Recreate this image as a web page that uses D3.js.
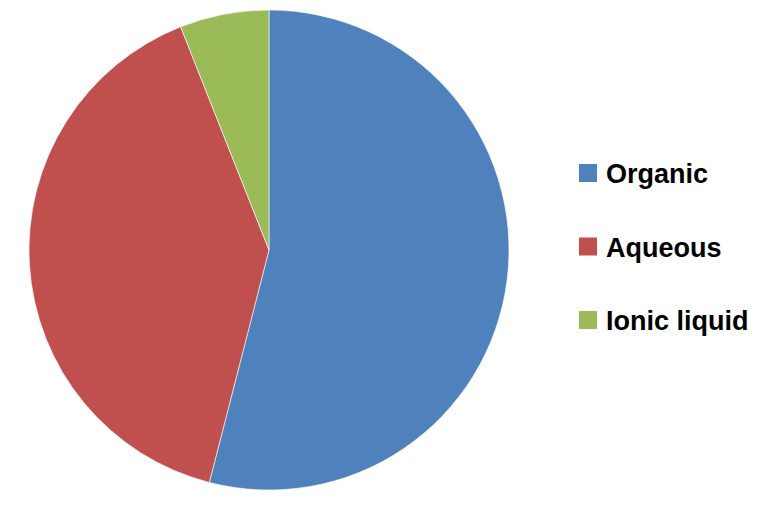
<!DOCTYPE html>
<html>
<head>
<meta charset="utf-8">
<script src="https://cdn.jsdelivr.net/npm/d3@7"></script>
<style>
  html, body { margin: 0; padding: 0; background: #fff; }
  svg { display: block; }
</style>
</head>
<body>
<svg id="chart" width="778" height="506"></svg>
<script>
const categories = ["Organic", "Aqueous", "Ionic liquid"];
const values = [54, 40, 6];
const colors = ["#4F81BD", "#C0504D", "#9BBB59"];

const svg = d3.select("#chart");
const cx = 269, cy = 250, r = 240;

const pie = d3.pie().sort(null).value(d => d.v);
const arcs = pie(categories.map((c, i) => ({ c, v: values[i], col: colors[i] })));
const arc = d3.arc().innerRadius(0).outerRadius(r);

svg.append("g")
  .attr("transform", `translate(${cx},${cy})`)
  .selectAll("path")
  .data(arcs)
  .enter().append("path")
  .attr("d", arc)
  .attr("fill", d => d.data.col)
  .attr("stroke", "#ffffff")
  .attr("stroke-width", 0.6);

const legend = svg.append("g").attr("transform", "translate(579,0)");
const rowY = d3.scalePoint().domain(categories).range([173, 320]);
const items = legend.selectAll("g").data(categories).enter().append("g")
  .attr("transform", d => `translate(0,${rowY(d)})`);
items.append("rect")
  .attr("x", 0).attr("y", -9).attr("width", 18).attr("height", 18)
  .attr("fill", (d, i) => colors[i]);
items.append("text")
  .attr("x", 27).attr("y", 10)
  .attr("font-family", "'Liberation Sans', Arial, sans-serif")
  .attr("font-weight", "bold")
  .attr("font-size", 27)
  .attr("fill", "#000")
  .text(d => d);
</script>
</body>
</html>
